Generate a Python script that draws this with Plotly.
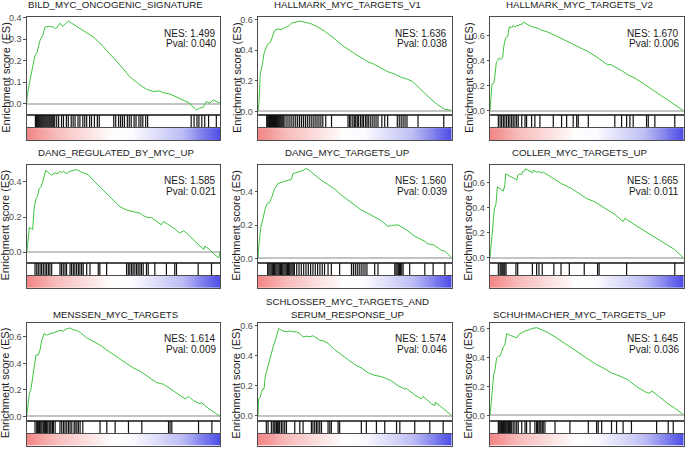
import plotly.graph_objects as go

W, H = 685, 449

titles = ["BILD_MYC_ONCOGENIC_SIGNATURE", "HALLMARK_MYC_TARGETS_V1", "HALLMARK_MYC_TARGETS_V2",
          "DANG_REGULATED_BY_MYC_UP", "DANG_MYC_TARGETS_UP", "COLLER_MYC_TARGETS_UP",
          "MENSSEN_MYC_TARGETS", "SCHLOSSER_MYC_TARGETS_AND<br>SERUM_RESPONSE_UP",
          "SCHUHMACHER_MYC_TARGETS_UP"]
nes = [1.499, 1.636, 1.670, 1.585, 1.560, 1.665, 1.614, 1.574, 1.645]
pval = [0.040, 0.038, 0.006, 0.021, 0.039, 0.011, 0.009, 0.046, 0.036]

# ---- running enrichment score: rank position (% of ranked list) and ES ----
rank_1 = [0, 0.3, 1.7, 3.4, 4.3, 5.2, 6.0, 6.9, 8.3, 9.5, 11.2, 13.8, 15.1, 16.3, 17.2, 18.6, 19.8, 21.5, 23.2,
          25.8, 29.2, 31.8, 34.4, 37.8, 43.0, 48.2, 53.3, 58.5, 61.9, 65.4, 68.8, 70.5, 74.0, 77.4, 80.8, 84.3,
          86.0, 87.7, 89.4, 91.2, 92.9, 94.6, 96.3, 98.0, 100]
es_1 = [0, 0.04, 0.11, 0.195, 0.226, 0.234, 0.265, 0.295, 0.318, 0.357, 0.36, 0.357, 0.349, 0.365, 0.375, 0.36,
        0.372, 0.385, 0.375, 0.36, 0.342, 0.323, 0.311, 0.283, 0.234, 0.18, 0.126, 0.088, 0.068, 0.057, 0.06,
        0.052, 0.046, 0.031, 0.015, 0.003, -0.015, -0.028, -0.02, -0.015, 0.011, 0.003, 0.018, 0.011, 0.003]
hits_1 = [4.5, 5, 5.5, 6, 6.5, 7, 7.5, 8, 8.5, 9, 9.5, 10, 10.5, 11, 11.5, 12, 12.5, 13, 13.5, 14, 14.5,
          15.5, 16.5, 18, 19, 20.5, 21.5, 23, 24, 25, 26.5, 27.5, 29, 30, 31, 32.5, 33.5, 35, 36.5, 37.5,
          45, 46, 47.5, 48.5, 49.5, 50.5, 52, 53, 54, 55.5, 56.5, 58, 59, 60, 61.5, 62.5,
          85, 86.5, 88, 89, 90.5, 92, 94, 98]

rank_2 = [0, 0.5, 1.2, 2.2, 3.1, 4.3, 5.5, 6.5, 7.4, 8.6, 10.3, 12.0, 13.8, 15.5, 17.2, 18.9, 21.5, 24.1, 27.5,
          31.0, 34.4, 39.6, 44.7, 49.9, 53.3, 56.8, 60.2, 63.6, 67.1, 70.5, 74.0, 77.4, 80.0, 82.6, 86.0, 89.4,
          92.9, 96.3, 100]
es_2 = [0, 0.054, 0.249, 0.303, 0.379, 0.422, 0.448, 0.455, 0.487, 0.531, 0.541, 0.535, 0.548, 0.557, 0.578,
        0.583, 0.591, 0.585, 0.574, 0.552, 0.526, 0.476, 0.422, 0.379, 0.353, 0.325, 0.308, 0.282, 0.26, 0.245,
        0.223, 0.21, 0.195, 0.162, 0.119, 0.08, 0.043, 0.015, 0.006]
hits_2 = [4.5, 5, 5.5, 6, 6.5, 7, 7.5, 8, 8.5, 9, 9.5, 10, 10.5, 11, 11.5, 12, 12.5, 13, 13.5,
          14.5, 15.5, 16.5, 17.5, 18.5, 19.5, 20.5, 21.5, 22.5, 23.5, 24.5, 25.5, 26.5, 27.5, 28.5, 29.5,
          30.5, 31.5, 32.5, 33.5, 35, 38,
          46.5, 47.3, 48, 49, 49.8, 50.5, 51.3, 52, 53, 53.8, 54.5, 55.5, 56.3, 57, 58, 59, 60, 61, 62,
          64, 65.5, 67, 72, 73, 74, 75, 76, 77, 82.7, 96]

rank_3 = [0, 0.3, 1.0, 1.9, 2.4, 3.3, 4.0, 4.8, 5.7, 6.5, 7.2, 8.1, 9.1, 10.0, 11.2, 12.0, 12.9, 13.8, 14.6,
          15.5, 16.4, 17.2, 18.9, 21.5, 25.0, 26.7, 29.3, 31.8, 33.6, 42.2, 50.8, 55.9, 59.4, 60.8, 62.0, 64.5,
          68.0, 71.4, 74.9, 81.8, 88.6, 95.5, 100]
es_3 = [0, 0.08, 0.21, 0.22, 0.26, 0.39, 0.40, 0.42, 0.41, 0.42, 0.52, 0.58, 0.59, 0.67, 0.66, 0.68, 0.665,
        0.68, 0.675, 0.69, 0.685, 0.705, 0.69, 0.67, 0.655, 0.64, 0.63, 0.61, 0.60, 0.535, 0.47, 0.42, 0.38,
        0.365, 0.37, 0.35, 0.32, 0.285, 0.26, 0.19, 0.12, 0.05, 0.0]
hits_3 = [4.3, 5.2, 6.0, 6.9, 7.7, 8.6, 9.5, 10.3, 11.2, 12.0, 12.9, 13.8, 14.6, 16.4, 18.1, 18.9, 21.5, 23.2,
          25.8, 32.7, 37.0, 39.6, 43.0, 44.8, 45.6, 50.8, 64.5, 68.0, 70.6, 72.3, 74.0, 80.9, 81.8, 85.2, 95.5]

rank_4 = [0, 0.5, 1.4, 2.6, 3.1, 3.8, 4.8, 5.5, 6.5, 7.4, 8.3, 9.1, 9.8, 11.2, 12.9, 14.6, 15.8, 16.8, 18.0,
          18.9, 20.6, 22.3, 24.1, 25.8, 27.5, 29.2, 31.8, 34.4, 37.8, 41.3, 44.7, 48.2, 51.6, 55.0, 58.5, 60.2,
          62.7, 64.5, 67.1, 69.6, 70.8, 72.2, 73.9, 76.5, 79.1, 81.2, 83.4, 86.0, 89.4, 91.5, 92.0, 94.6, 97.1,
          99.3, 100]
es_4 = [0, 0.043, 0.141, 0.133, 0.128, 0.25, 0.306, 0.315, 0.362, 0.372, 0.4, 0.438, 0.466, 0.453, 0.438,
        0.453, 0.445, 0.46, 0.453, 0.46, 0.447, 0.46, 0.466, 0.471, 0.46, 0.453, 0.441, 0.409, 0.372, 0.334,
        0.297, 0.259, 0.24, 0.231, 0.222, 0.208, 0.197, 0.197, 0.175, 0.156, 0.175, 0.165, 0.156, 0.133, 0.109,
        0.122, 0.1, 0.071, 0.034, 0.015, 0.034, 0.015, -0.013, -0.032, 0.006]
hits_4 = [4.3, 5.2, 6.0, 6.9, 7.7, 8.6, 9.5, 10.3, 11.2, 12.0, 12.9, 17.2, 18.0, 18.9, 19.8, 20.6, 22.4, 23.2,
          24.1, 24.9, 25.8, 26.7, 27.5, 28.4, 29.2, 31.0, 32.7, 37.0, 37.8, 41.3, 51.6, 52.5, 53.3, 54.2, 55.0,
          55.9, 56.8, 57.6, 58.5, 59.3, 60.2, 61.9, 62.8, 66.2, 72.2, 76.5, 77.4, 88.6, 95.5]

rank_5 = [0, 0.3, 1.4, 2.6, 3.8, 4.8, 6.0, 7.2, 8.6, 10.3, 12.1, 13.8, 15.5, 17.2, 18.1, 19.8, 21.6, 23.3, 24.5,
          25.9, 27.6, 30.2, 32.8, 36.2, 39.7, 43.1, 46.6, 50.0, 53.4, 56.9, 60.3, 63.8, 67.2, 69.0, 72.4, 74.1,
          76.7, 81.0, 84.5, 86.2, 87.9, 90.5, 93.1, 94.8, 96.6, 98.3, 100]
es_5 = [0, 0.063, 0.182, 0.251, 0.301, 0.331, 0.337, 0.37, 0.42, 0.45, 0.459, 0.463, 0.469, 0.475, 0.509, 0.515,
        0.519, 0.529, 0.539, 0.535, 0.519, 0.495, 0.469, 0.444, 0.416, 0.38, 0.35, 0.321, 0.291, 0.271, 0.251,
        0.226, 0.192, 0.198, 0.202, 0.192, 0.172, 0.133, 0.113, 0.103, 0.087, 0.083, 0.063, 0.048, 0.044, 0.024,
        0.004]
hits_5 = [5, 5.6, 6.2, 6.8, 7.4, 8, 8.6, 9.2, 9.8, 10.4, 11, 11.6, 12.2, 12.8, 13.4, 14, 14.6, 15.2, 15.8, 16.4,
          17, 17.6, 18.2, 18.8, 20, 21.2, 22.4, 23.6, 24.8, 26, 27.2, 28.4, 29.6, 30.8, 32, 33.2, 34.4, 36.2,
          37.9, 42.2, 48.3, 49.3, 50.3, 51.3, 52.3, 53.3, 54.3, 55.3, 56.3, 60.3, 62, 70.7, 71.3, 71.9, 72.5,
          73.1, 73.7, 74.3, 75, 78.4, 86.2, 90.5, 96.6]

rank_6 = [0, 0.5, 1.4, 2.2, 3.1, 3.8, 5.2, 6.9, 7.7, 8.1, 10.3, 12.9, 13.8, 14.3, 15.5, 16.4, 16.9, 18.1, 18.4,
          19.8, 21.9, 22.4, 24.1, 25.0, 26.7, 27.5, 29.3, 31.8, 33.2, 37.0, 42.2, 47.3, 49.9, 54.2, 59.4, 64.5,
          68.8, 69.7, 74.9, 81.8, 88.6, 95.5, 100]
es_6 = [0, 0.079, 0.242, 0.382, 0.434, 0.566, 0.553, 0.532, 0.584, 0.671, 0.65, 0.632, 0.618, 0.658, 0.671,
        0.663, 0.689, 0.697, 0.711, 0.697, 0.679, 0.697, 0.684, 0.689, 0.676, 0.684, 0.666, 0.639, 0.624, 0.592,
        0.553, 0.5, 0.474, 0.447, 0.395, 0.347, 0.289, 0.316, 0.263, 0.197, 0.132, 0.066, 0.0]
hits_6 = [4.3, 5.2, 5.7, 6.2, 6.7, 7.2, 7.7, 8.3, 13.4, 14.3, 21.9, 24.1, 25.3, 27.0, 33.0, 36.7, 41.0, 48.7,
          55.6, 56.4, 70.6, 95.5]

rank_7 = [0, 0.3, 1.4, 2.2, 2.9, 4.0, 4.8, 6.0, 6.9, 7.8, 9.0, 10.3, 12.1, 13.8, 15.5, 17.2, 19.0, 20.7, 22.4,
          24.1, 25.9, 28.4, 31.0, 34.5, 37.9, 41.4, 44.8, 48.3, 51.7, 55.2, 58.6, 62.1, 65.5, 67.2, 69.0, 70.7,
          74.1, 77.6, 81.9, 83.6, 86.2, 89.7, 90.2, 93.1, 96.6, 100]
es_7 = [0, 0.044, 0.175, 0.205, 0.267, 0.378, 0.464, 0.464, 0.501, 0.575, 0.625, 0.612, 0.625, 0.63, 0.637,
        0.649, 0.644, 0.662, 0.667, 0.654, 0.649, 0.625, 0.593, 0.563, 0.538, 0.501, 0.464, 0.432, 0.398, 0.365,
        0.341, 0.304, 0.267, 0.254, 0.249, 0.242, 0.21, 0.175, 0.131, 0.151, 0.119, 0.094, 0.106, 0.069, 0.032,
        0.0]
hits_7 = [4.3, 5.2, 5.5, 6.0, 6.6, 6.9, 7.4, 7.9, 8.6, 9.1, 9.7, 10.3, 10.9, 11.6, 12.1, 12.6, 13.3, 13.8,
          14.7, 17.2, 18.1, 19.0, 19.8, 20.7, 21.6, 22.4, 23.3, 24.5, 25.0, 25.9, 26.7, 27.6, 29.0, 37.9, 41.4,
          45.7, 52.6, 59.5, 73.3, 74.1, 75.0, 88.8, 95.7]

rank_8 = [0, 0.3, 1.2, 1.7, 2.6, 3.1, 3.8, 4.7, 5.5, 6.4, 7.2, 8.1, 9.0, 9.8, 10.7, 11.7, 12.9, 14.7, 16.4,
          18.1, 19.8, 21.6, 23.3, 25.0, 26.7, 28.4, 30.2, 31.9, 33.6, 36.2, 39.7, 43.1, 46.6, 50.0, 53.4, 56.9,
          60.3, 63.8, 66.4, 69.0, 72.4, 75.9, 76.7, 81.0, 84.5, 85.3, 89.7, 91.4, 91.7, 95.7, 100]
es_8 = [0, 0.113, 0.123, 0.156, 0.182, 0.178, 0.264, 0.308, 0.362, 0.405, 0.438, 0.47, 0.502, 0.546, 0.578,
        0.572, 0.563, 0.557, 0.563, 0.557, 0.557, 0.546, 0.524, 0.528, 0.524, 0.531, 0.513, 0.502, 0.498, 0.481,
        0.438, 0.405, 0.373, 0.34, 0.318, 0.286, 0.269, 0.26, 0.247, 0.232, 0.199, 0.178, 0.182, 0.139, 0.113,
        0.13, 0.08, 0.069, 0.091, 0.052, 0.004]
hits_8 = [4.3, 5.2, 6.9, 7.8, 8.3, 8.8, 9.5, 10.0, 10.7, 11.2, 12.1, 12.9, 13.8, 14.7, 19.0, 21.6, 23.3, 27.6,
          28.4, 29.3, 30.2, 31.0, 31.9, 32.8, 36.2, 37.1, 37.9, 41.4, 42.2, 53.4, 56.0, 61.2, 65.5, 71.6, 73.3,
          81.0, 88.8, 95.7]

rank_9 = [0, 0.5, 1.2, 1.9, 2.6, 3.4, 4.3, 5.2, 6.0, 6.9, 7.7, 8.6, 9.5, 11.2, 12.6, 13.8, 15.0, 16.4, 18.1,
          19.8, 21.5, 24.1, 26.7, 29.3, 33.6, 38.7, 43.9, 49.0, 54.2, 59.4, 62.8, 68.0, 71.4, 75.7, 78.3, 80.9,
          82.6, 83.5, 86.9, 92.1, 95.5, 100]
es_9 = [0, 0.068, 0.181, 0.283, 0.317, 0.396, 0.408, 0.412, 0.441, 0.475, 0.487, 0.566, 0.559, 0.548, 0.543,
        0.536, 0.561, 0.571, 0.584, 0.589, 0.6, 0.607, 0.593, 0.577, 0.543, 0.498, 0.453, 0.408, 0.358, 0.321,
        0.294, 0.267, 0.245, 0.199, 0.181, 0.158, 0.154, 0.17, 0.136, 0.079, 0.05, 0.005]
hits_9 = [4.3, 4.8, 5.3, 5.9, 6.4, 6.9, 7.4, 7.9, 8.4, 8.9, 9.5, 10.0, 10.5, 11.2, 12.0, 12.9, 13.8, 14.6, 16.4,
          18.1, 18.9, 20.7, 23.2, 24.1, 24.6, 25.3, 25.8, 26.3, 27.0, 27.5, 28.4, 33.6, 41.3, 50.8, 55.1, 55.9,
          57.7, 62.8, 65.4, 68.8, 73.1, 86.1, 92.1, 94.7]

ranks = [rank_1, rank_2, rank_3, rank_4, rank_5, rank_6, rank_7, rank_8, rank_9]
scores = [es_1, es_2, es_3, es_4, es_5, es_6, es_7, es_8, es_9]
hits = [hits_1, hits_2, hits_3, hits_4, hits_5, hits_6, hits_7, hits_8, hits_9]

# ---- layout geometry (pixels) ----
col_left = [26.7, 258.0, 490.0]
col_w = 193.5
row_top = [13.3, 162.7, 322.3]
es_h, hit_h, gap, grad_h = 99.0, 12.5, 0.7, 12.0
yranges = [[-0.052, 0.403], [-0.024, 0.6175], [-0.034, 0.745], [-0.060, 0.497], [-0.026, 0.562],
           [-0.039, 0.742], [-0.032, 0.707], [-0.031, 0.6175], [-0.036, 0.641]]
dticks = [0.1, 0.2, 0.2, 0.2, 0.2, 0.2, 0.2, 0.2, 0.2]
title_shift = [5, 4.5, 1]

FONT = "Liberation Sans, Arial, sans-serif"
BORDER = "#4d4d4d"
GREEN = "#3cc43c"
grad_scale = [[0, "rgb(243,135,135)"], [0.15, "rgb(248,188,188)"], [0.45, "rgb(255,255,255)"],
              [0.55, "rgb(250,250,255)"], [0.8, "rgb(190,190,245)"], [1, "rgb(78,78,230)"]]
grad_x = [i + 0.5 for i in range(100)]
grad_z = [[i for i in range(100)]]


def pxx(v):
    return v / W


def pxy(v):
    return 1 - v / H


fig = go.Figure()
layout = {}
annotations = []

for p in range(9):
    r, c = divmod(p, 3)
    x0 = col_left[c]
    x1 = x0 + col_w
    t = row_top[r]
    es_dom = [pxy(t + es_h), pxy(t)]
    hit_dom = [pxy(t + es_h + hit_h), pxy(t + es_h)]
    g0 = t + es_h + hit_h + gap
    grad_dom = [pxy(g0 + grad_h), pxy(g0)]
    xdom = [pxx(x0), pxx(x1)]
    n1, n2, n3 = 3 * p + 1, 3 * p + 2, 3 * p + 3
    s1 = "" if n1 == 1 else str(n1)
    s2, s3 = str(n2), str(n3)

    # ES curve
    fig.add_trace(go.Scatter(x=ranks[p], y=scores[p], mode="lines",
                             line=dict(color=GREEN, width=1), xaxis="x" + s1, yaxis="y" + s1,
                             showlegend=False, hoverinfo="skip"))
    # hit barcode
    hx, hy = [], []
    for h in hits[p]:
        hx += [h, h, None]
        hy += [0, 1, None]
    fig.add_trace(go.Scatter(x=hx, y=hy, mode="lines", line=dict(color="#111111", width=1.2),
                             xaxis="x" + s2, yaxis="y" + s2, showlegend=False, hoverinfo="skip"))
    # rank gradient
    fig.add_trace(go.Heatmap(x=grad_x, z=grad_z, colorscale=grad_scale, showscale=False,
                             xaxis="x" + s3, yaxis="y" + s3, hoverinfo="skip"))

    box = dict(showline=True, mirror=True, linecolor=BORDER, linewidth=1, showgrid=False)
    layout["xaxis" + s1] = dict(domain=xdom, range=[0, 100], showticklabels=False, ticks="",
                                zeroline=False, anchor="y" + s1, **box)
    layout["yaxis" + s1] = dict(domain=es_dom, range=yranges[p], dtick=dticks[p], tick0=0,
                                tickformat=".1f", ticks="outside", ticklen=2.5, tickwidth=1,
                                tickcolor=BORDER, tickfont=dict(family=FONT, size=9, color="#4d4d4d"),
                                zeroline=True, zerolinecolor="#c4c4c4", zerolinewidth=1.5,
                                anchor="x" + s1, **box)
    layout["xaxis" + s2] = dict(domain=xdom, range=[0, 100], showticklabels=False, ticks="",
                                zeroline=False, anchor="y" + s2, **box)
    layout["yaxis" + s2] = dict(domain=hit_dom, range=[0, 1], showticklabels=False, ticks="",
                                zeroline=False, anchor="x" + s2, **box)
    layout["xaxis" + s3] = dict(domain=xdom, range=[0, 100], showticklabels=False, ticks="",
                                zeroline=False, anchor="y" + s3, **box)
    layout["yaxis" + s3] = dict(domain=grad_dom, range=[-0.5, 0.5], showticklabels=False, ticks="",
                                zeroline=False, anchor="x" + s3, **box)

    xd = ("x" if s1 == "" else "x" + s1) + " domain"
    yd = ("y" if s1 == "" else "y" + s1) + " domain"
    annotations.append(dict(text=titles[p], xref=xd, yref=yd, x=0.5, y=1, xanchor="center",
                            yanchor="bottom", xshift=-7.5, yshift=title_shift[r], showarrow=False,
                            font=dict(family=FONT, size=9.7, color="#1a1a1a")))
    annotations.append(dict(text=f"NES: {nes[p]:.3f}", xref=xd, yref=yd, x=1, y=1, xanchor="right",
                            yanchor="middle", xshift=-2.5, yshift=-16, showarrow=False,
                            font=dict(family=FONT, size=10, color="#1a1a1a")))
    annotations.append(dict(text=f"Pval: {pval[p]:.3f}", xref=xd, yref=yd, x=1, y=1, xanchor="right",
                            yanchor="middle", xshift=-2.5, yshift=-26.3, showarrow=False,
                            font=dict(family=FONT, size=10, color="#1a1a1a")))
    annotations.append(dict(text="Enrichment score (ES)", xref="paper", yref="paper",
                            x=pxx(x0 - 21.5), y=pxy(t + (g0 + grad_h - t) / 2 - 1),
                            xanchor="center", yanchor="middle", textangle=-90, showarrow=False,
                            font=dict(family=FONT, size=11, color="#1a1a1a")))

fig.update_layout(**layout)
fig.update_layout(width=W, height=H, margin=dict(l=0, r=0, t=0, b=0), paper_bgcolor="white",
                  plot_bgcolor="white", annotations=annotations, showlegend=False)
fig.write_html("out.html", config={"displayModeBar": False},
               post_script="document.body.style.margin='0px';document.body.style.overflow='hidden';")
